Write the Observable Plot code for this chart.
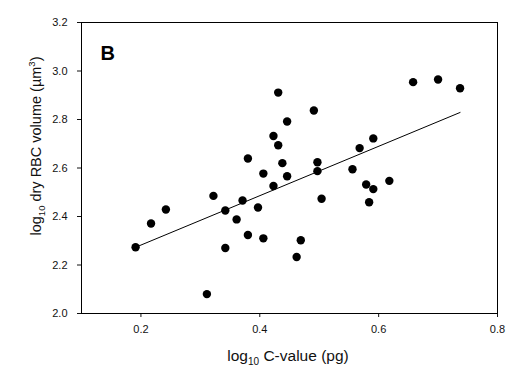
<!DOCTYPE html>
<html>
<head>
<meta charset="utf-8">
<script src="https://cdn.jsdelivr.net/npm/d3@7"></script>
<script src="https://cdn.jsdelivr.net/npm/@observablehq/plot@0.6"></script>
<style>
  body { margin: 0; background: #fff; }
  svg { font-family: "Liberation Sans", Arial, sans-serif; }
</style>
</head>
<body>
<div id="chart"></div>
<script>
const cValue = [0.431, 0.658, 0.700, 0.737, 0.491, 0.446, 0.423, 0.431, 0.591, 0.568,
  0.380, 0.438, 0.497, 0.556, 0.497, 0.406, 0.446, 0.618, 0.423, 0.579,
  0.591, 0.322, 0.504, 0.371, 0.584, 0.397, 0.242, 0.342, 0.361, 0.217,
  0.380, 0.406, 0.469, 0.191, 0.342, 0.462, 0.311];
const rbcVolume = [2.911, 2.954, 2.965, 2.929, 2.837, 2.792, 2.732, 2.694, 2.722, 2.682,
  2.639, 2.620, 2.624, 2.595, 2.587, 2.577, 2.566, 2.547, 2.526, 2.532,
  2.513, 2.485, 2.473, 2.466, 2.459, 2.437, 2.429, 2.425, 2.388, 2.371,
  2.324, 2.310, 2.302, 2.273, 2.270, 2.233, 2.080];
const fitX = [0.191, 0.737];
const fitY = [2.273, 2.829];
const xTicks = [0.2, 0.4, 0.6, 0.8];
const yTicks = [2.0, 2.2, 2.4, 2.6, 2.8, 3.0, 3.2];
const panelLabel = "B";

const points = cValue.map((x, i) => ({x, y: rbcVolume[i]}));
const fit = fitX.map((x, i) => ({x, y: fitY[i]}));

const W = 517, H = 380;
const plot = Plot.plot({
  width: W, height: H,
  marginLeft: 81, marginRight: 20, marginTop: 22, marginBottom: 67,
  style: {fontFamily: '"Liberation Sans", Arial, sans-serif', fontSize: "11px", color: "#111", background: "#fff"},
  x: {domain: [0.1, 0.8], ticks: xTicks, tickFormat: d3.format(".1f"), label: null, tickSize: 4, tickPadding: 8},
  y: {domain: [2.0, 3.2], ticks: yTicks, tickFormat: d3.format(".1f"), label: null, tickSize: 4, tickPadding: 10},
  marks: [
    Plot.frame({stroke: "#000", strokeWidth: 1}),
    Plot.line(fit, {x: "x", y: "y", stroke: "#000", strokeWidth: 1}),
    Plot.dot(points, {x: "x", y: "y", r: 4.2, fill: "#000", stroke: "none"}),
    Plot.text([panelLabel], {frameAnchor: "top-left", dx: 19, dy: 23, fontSize: 20, fontWeight: "bold", fill: "#000"})
  ]
});

const svg = d3.select(plot);
// x axis title
const xt = svg.append("text")
  .attr("x", 288).attr("y", 361)
  .attr("text-anchor", "middle")
  .attr("font-size", 15.5).attr("fill", "#111");
xt.append("tspan").text("log");
xt.append("tspan").attr("font-size", 10).attr("dy", 4).text("10");
xt.append("tspan").attr("dy", -4).text(" C-value (pg)");

// y axis title
const yt = svg.append("text")
  .attr("transform", "translate(41,146) rotate(-90)")
  .attr("text-anchor", "middle")
  .attr("font-size", 14.5).attr("fill", "#111");
yt.append("tspan").text("log");
yt.append("tspan").attr("font-size", 9.5).attr("dy", 4).text("10");
yt.append("tspan").attr("dy", -4).text(" dry RBC volume (\u00b5m");
yt.append("tspan").attr("font-size", 9.5).attr("dy", -6).text("3");
yt.append("tspan").attr("dy", 6).text(")");

document.getElementById("chart").appendChild(plot);
</script>
</body>
</html>
